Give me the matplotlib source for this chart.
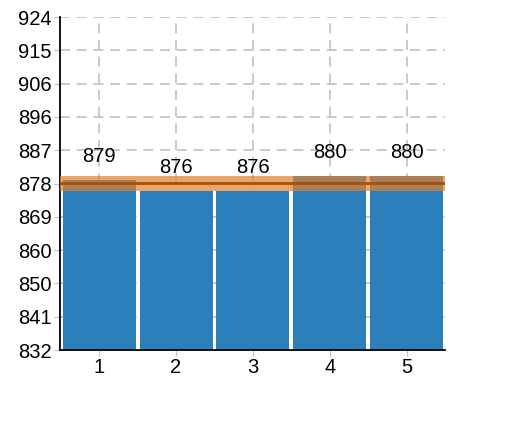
import numpy as np
import matplotlib
matplotlib.use("Agg")
import matplotlib.pyplot as plt

plt.rcParams['font.family'] = ['Liberation Sans', 'DejaVu Sans']

# values
categories = [1, 2, 3, 4, 5]
values = [879, 876, 876, 880, 880]
value_labels = ['879', '876', '876', '880', '880']
y_range = (832, 924)

bar_color = '#2b7fba'
band_color = '#e27f2a'
mean_color = '#a5500c'

fig = plt.figure(figsize=(5.16, 4.48), dpi=100)
ax = fig.add_axes([60 / 516, 98 / 448, 385 / 516, 333 / 448])

y_lo, y_hi = y_range

ax.bar(categories, [v - y_lo for v in values], bottom=y_lo, width=0.95,
       color=bar_color, zorder=2)

# min-max band and mean line
ax.axhspan(min(values), max(values), color=band_color, alpha=0.7, lw=0, zorder=3)
ax.axhline(np.mean(values), color=mean_color, lw=2, zorder=4)

for x, v, lab in zip(categories, values, value_labels):
    ax.annotate(lab, (x, v), xytext=(0, 10), textcoords='offset points',
                ha='center', va='bottom', fontsize=14.5, zorder=5)

ax.set_xlim(0.49, 5.5)
ax.set_ylim(y_lo, y_hi)
ticks = np.linspace(y_lo, y_hi, 11)
ax.set_yticks(ticks)
ax.set_yticklabels([f"{t:.0f}" for t in ticks])
ax.set_xticks(categories)

ax.grid(True, color='#c0c0c0', linestyle=(0, (6, 4)), linewidth=1.2, zorder=0)
ax.set_axisbelow(True)

ax.spines['top'].set_visible(False)
ax.spines['right'].set_visible(False)
ax.spines['left'].set_linewidth(1.3)
ax.spines['bottom'].set_linewidth(1.3)
ax.tick_params(axis='both', labelsize=14.5, length=4, color='#c0c0c0', pad=2)

fig.savefig('out.png', dpi=100)
